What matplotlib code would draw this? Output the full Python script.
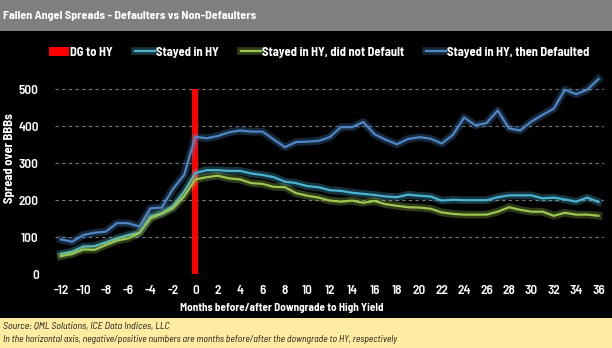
import numpy as np
import matplotlib
matplotlib.use("Agg")
import matplotlib.pyplot as plt
import matplotlib.patheffects as pe
from matplotlib.patches import Rectangle

# データ
months = np.arange(-12, 37)
defaulted = [94, 88, 106, 112, 115, 138, 138, 129, 178, 180, 230, 268, 371,
             367, 373, 383, 388, 385, 385, 364, 343, 357, 358, 360, 370,
             397, 397, 411, 378, 363, 351, 365, 370, 366, 353, 376,
             423, 402, 408, 442, 394, 388, 412, 430, 447, 498, 486, 498, 527]
stayed = [55, 61, 75, 76, 86, 97, 106, 112, 156, 165, 184, 223, 273,
          281, 281, 279, 279, 272, 268, 262, 250, 246, 238, 235, 227,
          225, 220, 217, 214, 210, 208, 215, 212, 210, 199, 201,
          200, 200, 200, 208, 213, 213, 213, 205, 207, 202, 196, 207, 195]
not_defaulted = [49, 55, 67, 66, 79, 91, 97, 111, 151, 163, 178, 210, 256,
                 262, 266, 259, 256, 246, 244, 236, 235, 219, 212, 207, 199,
                 196, 199, 193, 198, 189, 185, 181, 180, 177, 167, 163,
                 161, 161, 161, 169, 181, 174, 169, 169, 158, 166, 161, 161, 158]
dg_month = [0]
dg_height = [500]
xticks = np.arange(-12, 37, 2)
yticks = np.arange(0, 501, 100)

plt.rcParams['font.family'] = ['Barlow Semi Condensed', 'DejaVu Sans']
plt.rcParams['axes.unicode_minus'] = False

W, H = 612, 348
fig = plt.figure(figsize=(W / 100, H / 100), dpi=100)
fig.patch.set_facecolor('black')

# タイトル帯とフッター帯
fig.patches.append(Rectangle((0, 1 - 31 / H), 1, 31 / H, transform=fig.transFigure,
                             facecolor='#7f7f7f', edgecolor='none', zorder=0))
fig.patches.append(Rectangle((0, 0), 1, 30 / H, transform=fig.transFigure,
                             facecolor='#ffeca0', edgecolor='none', zorder=0))
fig.text(3 / W, 1 - 16 / H, 'Fallen Angel Spreads - Defaulters vs Non-Defaulters',
         color='white', fontsize=8.7, fontweight='bold', va='center', ha='left')
fig.text(3 / W, 1 - 326 / H, 'Source: QML Solutions, ICE Data Indices, LLC',
         color='#1a1a1a', fontsize=7.2, style='italic', va='center', ha='left')
fig.text(3 / W, 1 - 340 / H,
         'In the horizontal axis, negative/positive numbers are months before/after the downgrade to HY, respectively',
         color='#1a1a1a', fontsize=7.0, style='italic', va='center', ha='left')

# y=0 -> 274.3px, 100 単位 = 37.06px
y0, ppu = 274.3, 0.3706
ymax = 540
ax = fig.add_axes([55.3 / W, 1 - y0 / H, (604.1 - 55.3) / W, ymax * ppu / H])
ax.set_facecolor('black')

glow = lambda c: [pe.Stroke(linewidth=5.5, foreground=c, alpha=0.3), pe.Normal()]

bar = ax.bar(dg_month, dg_height, width=0.55, color='#ff0000', zorder=3)
l1, = ax.plot(months, stayed, color='#4bb3cf', lw=1.6, path_effects=glow('#4bb3cf'), zorder=4)
l2, = ax.plot(months, not_defaulted, color='#9cc651', lw=1.6, path_effects=glow('#9cc651'), zorder=4)
l3, = ax.plot(months, defaulted, color='#4f86c6', lw=1.6, path_effects=glow('#4f86c6'), zorder=4)

ax.set_xlim(-12.5, 36.5)
ax.set_ylim(0, ymax)
ax.set_xticks(xticks)
ax.set_yticks(yticks)
ax.grid(axis='y', color='#7a7a7a', linestyle=(0, (3, 3)), linewidth=0.8)
ax.set_axisbelow(True)
for s in ax.spines.values():
    s.set_visible(False)
ax.tick_params(colors='white', labelsize=9.5, length=0)
ax.tick_params(axis='x', pad=8)
ax.tick_params(axis='y', pad=12)
for lab in ax.get_xticklabels() + ax.get_yticklabels():
    lab.set_fontweight('semibold')

fig.text(282 / W, 1 - 308 / H, 'Months before/after Downgrade to High Yield',
         color='white', fontsize=8, fontweight='bold', ha='center', va='center')
fig.text(10 / W, 1 - 158 / H, 'Spread over BBBs', color='white', fontsize=9,
         fontweight='bold', rotation=90, ha='center', va='center')

leg = fig.legend([bar, l1, l2, l3],
                 ['DG to HY', 'Stayed in HY', 'Stayed in HY, did not Default', 'Stayed in HY, then Defaulted'],
                 loc='center left', bbox_to_anchor=(49 / W, 1 - 52 / H), ncol=4,
                 frameon=False, fontsize=9, handlelength=1.6, handletextpad=0.1,
                 columnspacing=1.75, borderaxespad=0, borderpad=0)
for t in leg.get_texts():
    t.set_color('white')
    t.set_fontweight('bold')

fig.savefig('out.png', dpi=100, facecolor=fig.get_facecolor())
